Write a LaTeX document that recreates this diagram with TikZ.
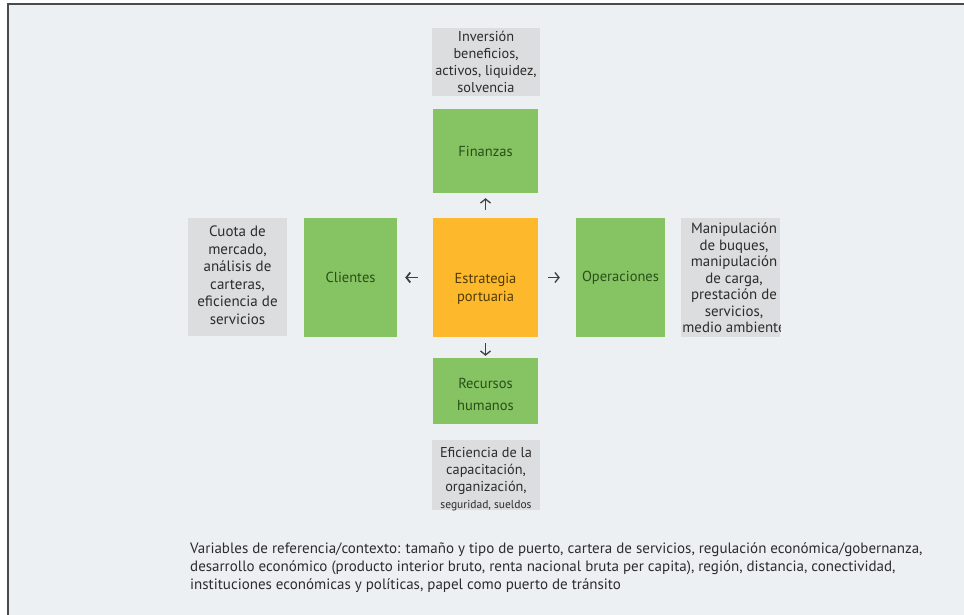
\documentclass[tikz,border=0pt]{standalone}
\usepackage{fontspec}
\setmainfont{PT Sans}
\usetikzlibrary{arrows.meta}
\definecolor{bg}{HTML}{EDF0F3}
\definecolor{grayfill}{HTML}{DCDDDF}
\definecolor{greenfill}{HTML}{86C363}
\definecolor{orangefill}{HTML}{FDB92B}
\definecolor{greentext}{HTML}{284F18}
\definecolor{orangetext}{HTML}{4F3A06}
\definecolor{graytext}{HTML}{2C2C2C}
\definecolor{framecol}{HTML}{4A4A4A}
\definecolor{arrcol}{HTML}{3C3F44}
\tikzset{
  greenbox/.style={fill=greenfill, inner sep=0pt, text=greentext, align=center,
    font=\fontsize{14.5}{22}\selectfont},
  orangebox/.style={fill=orangefill, inner sep=0pt},
  orangetxt/.style={text=orangetext, align=center, inner sep=0pt,
    font=\fontsize{14.5}{18}\selectfont},
  graybox/.style={fill=grayfill, inner sep=0pt},
  graytxt/.style={text=graytext, align=center, inner sep=0pt,
    font=\fontsize{14.3}{17}\selectfont},
  arr/.style={draw=arrcol, line width=1.3pt, -{Straight Barb[length=4pt,width=10pt]}}
}
\begin{document}
\begin{tikzpicture}[x=1pt,y=-1pt]
\useasboundingbox (0,0) rectangle (964,615);
\fill[white] (0,0) rectangle (964,615);
\fill[bg] (8,4) rectangle (964,615);
\draw[framecol, line width=1.6pt] (8,615) -- (8,4) -- (964,4);

% central and green boxes
\node[orangebox, minimum width=105, minimum height=119] (strat) at (485.5,277.5) {};
\node[orangetxt] (stratt) at (485.5,289) {Estrategia\\portuaria};
\node[greenbox, minimum width=105, minimum height=84] (fin) at (485.5,151) {Finanzas};
\node[greenbox, minimum width=93, minimum height=119] (cli) at (350.5,277.5) {Clientes};
\node[greenbox, minimum width=89, minimum height=119] (ops) at (620.5,277.5) {\raisebox{-2pt}{Operaciones}};
\node[greenbox, minimum width=105, minimum height=66] (rec) at (485.5,391) {};
\node[greenbox] (rect) at (485.5,394) {Recursos\\humanos};

% gray boxes
\node[graybox, minimum width=108, minimum height=68] (topg) at (486,62) {};
\node[graytxt] (topt) at (486,62) {Inversión\\beneficios,\\activos, liquidez,\\solvencia};

\node[graybox, minimum width=99, minimum height=118] (leftg) at (237.5,277) {};
\node[graytxt, font=\fontsize{15}{17.5}\selectfont] (leftt) at (237.5,275) {Cuota de\\mercado,\\análisis de\\carteras,\\eficiencia de\\servicios};

\node[graybox, minimum width=99, minimum height=119] (rightg) at (730.5,277.5) {};
\begin{scope}
\clip (rightg.south west) rectangle (rightg.north east);
\node[graytxt, font=\fontsize{14.9}{16.5}\selectfont] (rightt) at (734,278) {Manipulación\\de buques,\\manipulación\\de carga,\\prestación de\\servicios,\\medio ambiente};
\end{scope}

\node[graybox, minimum width=108, minimum height=70] (botg) at (486,475) {};
\node[graytxt] (bott) at (486,479) {Eficiencia de la\\capacitación,\\organización,\\{\fontsize{11.5}{14}\selectfont seguridad, sueldos}};

% arrows
\draw[arr, shorten <=8pt, shorten >=5pt] (strat) -- (fin);
\draw[arr, line width=1.7pt, shorten <=15pt, shorten >=8pt] (strat) -- (cli);
\draw[arr, shorten <=10pt, shorten >=16pt] (strat) -- (ops);
\draw[arr, shorten <=6pt, shorten >=2pt] (strat) -- (rec);

% bottom text
\node[anchor=north west, align=left, inner sep=0pt, text=graytext,
  font=\fontsize{15}{18}\selectfont] (vars) at (190,542)
  {Variables de referencia/contexto: tamaño y tipo de puerto, cartera de servicios, regulación económica/gobernanza,\\
   desarrollo económico (producto interior bruto, renta nacional bruta per capita), región, distancia, conectividad,\\
   instituciones económicas y políticas, papel como puerto de tránsito};
\end{tikzpicture}
\end{document}
